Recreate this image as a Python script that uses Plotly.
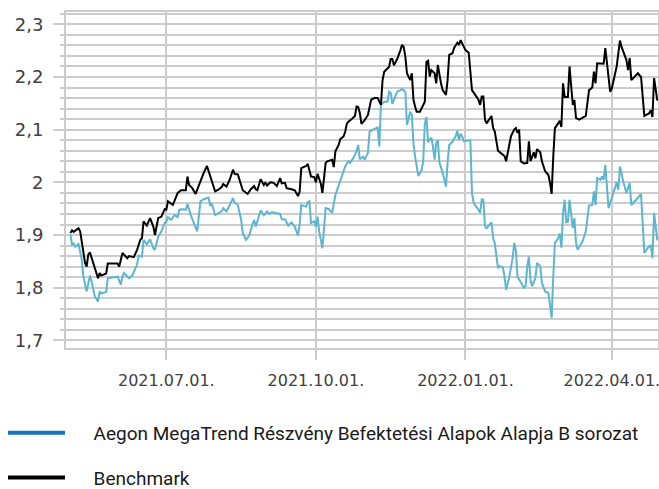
import plotly.graph_objects as go

fund_name = "Aegon MegaTrend Részvény Befektetési Alapok Alapja B sorozat"
bench_name = "Benchmark"

bench_dates = [
    "2021-05-03", "2021-05-04", "2021-05-05", "2021-05-08", "2021-05-09", "2021-05-10", "2021-05-12", "2021-05-13",
    "2021-05-14", "2021-05-15", "2021-05-17", "2021-05-19", "2021-05-20", "2021-05-21", "2021-05-22", "2021-05-25",
    "2021-05-26", "2021-06-01", "2021-06-02", "2021-06-04", "2021-06-07", "2021-06-08", "2021-06-11", "2021-06-13",
    "2021-06-15", "2021-06-16", "2021-06-17", "2021-06-19", "2021-06-21", "2021-06-23", "2021-06-24", "2021-06-26",
    "2021-06-28", "2021-06-30", "2021-07-01", "2021-07-02", "2021-07-05", "2021-07-08", "2021-07-10", "2021-07-13",
    "2021-07-14", "2021-07-15", "2021-07-17", "2021-07-19", "2021-07-21", "2021-07-24", "2021-07-26", "2021-07-28",
    "2021-07-31", "2021-08-02", "2021-08-04", "2021-08-05", "2021-08-07", "2021-08-09", "2021-08-11", "2021-08-12",
    "2021-08-14", "2021-08-16", "2021-08-17", "2021-08-20", "2021-08-22", "2021-08-24", "2021-08-25", "2021-08-26",
    "2021-08-28", "2021-08-30", "2021-08-31", "2021-09-01", "2021-09-03", "2021-09-05", "2021-09-07", "2021-09-09",
    "2021-09-10", "2021-09-12", "2021-09-13", "2021-09-16", "2021-09-18", "2021-09-20", "2021-09-21", "2021-09-22",
    "2021-09-25", "2021-09-26", "2021-09-28", "2021-09-30", "2021-10-01", "2021-10-02", "2021-10-04", "2021-10-05",
    "2021-10-06", "2021-10-07", "2021-10-08", "2021-10-10", "2021-10-11", "2021-10-12", "2021-10-13", "2021-10-15",
    "2021-10-16", "2021-10-18", "2021-10-19", "2021-10-20", "2021-10-21", "2021-10-23", "2021-10-25", "2021-10-26",
    "2021-10-27", "2021-10-28", "2021-10-29", "2021-10-31", "2021-11-02", "2021-11-04", "2021-11-06", "2021-11-08",
    "2021-11-09", "2021-11-10", "2021-11-11", "2021-11-12", "2021-11-14", "2021-11-15", "2021-11-16", "2021-11-17",
    "2021-11-18", "2021-11-20", "2021-11-22", "2021-11-23", "2021-11-24", "2021-11-25", "2021-11-26", "2021-11-28",
    "2021-11-29", "2021-11-30", "2021-12-01", "2021-12-02", "2021-12-04", "2021-12-06", "2021-12-07", "2021-12-08",
    "2021-12-09", "2021-12-10", "2021-12-11", "2021-12-13", "2021-12-14", "2021-12-15", "2021-12-16", "2021-12-17",
    "2021-12-18", "2021-12-20", "2021-12-21", "2021-12-22", "2021-12-24", "2021-12-25", "2021-12-27", "2021-12-28",
    "2021-12-29", "2021-12-30", "2021-12-31", "2022-01-01", "2022-01-03", "2022-01-04", "2022-01-05", "2022-01-07",
    "2022-01-09", "2022-01-10", "2022-01-11", "2022-01-12", "2022-01-13", "2022-01-14", "2022-01-17", "2022-01-18",
    "2022-01-19", "2022-01-21", "2022-01-23", "2022-01-25", "2022-01-26", "2022-01-28", "2022-01-29", "2022-01-31",
    "2022-02-01", "2022-02-02", "2022-02-03", "2022-02-04", "2022-02-06", "2022-02-08", "2022-02-09", "2022-02-10",
    "2022-02-12", "2022-02-13", "2022-02-14", "2022-02-16", "2022-02-17", "2022-02-19", "2022-02-21", "2022-02-22",
    "2022-02-23", "2022-02-24", "2022-02-25", "2022-02-27", "2022-02-28", "2022-03-01", "2022-03-02", "2022-03-03",
    "2022-03-05", "2022-03-06", "2022-03-08", "2022-03-09", "2022-03-10", "2022-03-12", "2022-03-16", "2022-03-18",
    "2022-03-20", "2022-03-21", "2022-03-22", "2022-03-23", "2022-03-25", "2022-03-27", "2022-03-28", "2022-03-30",
    "2022-03-31", "2022-04-01", "2022-04-04", "2022-04-06", "2022-04-07", "2022-04-10", "2022-04-11", "2022-04-12",
    "2022-04-13", "2022-04-17", "2022-04-19", "2022-04-21", "2022-04-24", "2022-04-25", "2022-04-26", "2022-04-27",
    "2022-04-29",
]
bench_values = [
    1.904, 1.909, 1.906, 1.913, 1.907, 1.885, 1.847, 1.840,
    1.863, 1.867, 1.847, 1.828, 1.818, 1.828, 1.823, 1.827,
    1.846, 1.846, 1.840, 1.866, 1.856, 1.860, 1.858, 1.872,
    1.891, 1.894, 1.926, 1.918, 1.932, 1.916, 1.900, 1.932,
    1.935, 1.949, 1.948, 1.964, 1.957, 1.980, 1.985, 1.985,
    2.011, 1.995, 1.989, 1.978, 1.995, 2.018, 2.031, 2.011,
    1.983, 1.986, 1.991, 1.997, 1.992, 2.005, 2.024, 2.016,
    2.015, 1.995, 1.985, 1.978, 1.987, 1.993, 1.987, 1.985,
    2.006, 1.995, 2.000, 1.994, 2.000, 1.999, 1.993, 2.008,
    1.998, 1.999, 1.989, 1.987, 1.985, 1.974, 1.982, 2.027,
    2.031, 2.035, 2.011, 2.010, 2.000, 2.016, 1.998, 1.980,
    2.016, 2.037, 2.040, 2.042, 2.043, 2.029, 2.059, 2.071,
    2.082, 2.087, 2.096, 2.111, 2.115, 2.120, 2.126, 2.144,
    2.143, 2.132, 2.111, 2.118, 2.128, 2.157, 2.160, 2.160,
    2.154, 2.147, 2.194, 2.210, 2.216, 2.219, 2.234, 2.234,
    2.222, 2.234, 2.251, 2.261, 2.257, 2.239, 2.207, 2.194,
    2.207, 2.157, 2.144, 2.134, 2.134, 2.145, 2.153, 2.229,
    2.231, 2.201, 2.213, 2.207, 2.188, 2.223, 2.200, 2.187,
    2.175, 2.166, 2.194, 2.242, 2.245, 2.255, 2.265, 2.261,
    2.270, 2.263, 2.258, 2.251, 2.246, 2.213, 2.175, 2.166,
    2.157, 2.147, 2.163, 2.163, 2.119, 2.112, 2.126, 2.103,
    2.097, 2.060, 2.055, 2.050, 2.040, 2.068, 2.088, 2.100,
    2.103, 2.094, 2.100, 2.040, 2.036, 2.037, 2.078, 2.040,
    2.057, 2.046, 2.063, 2.057, 2.040, 2.021, 2.014, 1.999,
    1.978, 2.049, 2.103, 2.112, 2.117, 2.105, 2.188, 2.162,
    2.162, 2.220, 2.147, 2.156, 2.122, 2.119, 2.126, 2.175,
    2.180, 2.210, 2.188, 2.226, 2.225, 2.225, 2.255, 2.194,
    2.172, 2.178, 2.220, 2.269, 2.257, 2.232, 2.213, 2.236,
    2.194, 2.207, 2.200, 2.126, 2.131, 2.137, 2.124, 2.198,
    2.155,
]

fund_dates = [
    "2021-05-03", "2021-05-04", "2021-05-05", "2021-05-06", "2021-05-08", "2021-05-10", "2021-05-11", "2021-05-13",
    "2021-05-15", "2021-05-16", "2021-05-18", "2021-05-20", "2021-05-21", "2021-05-22", "2021-05-25", "2021-05-26",
    "2021-06-01", "2021-06-03", "2021-06-04", "2021-06-05", "2021-06-08", "2021-06-10", "2021-06-13", "2021-06-14",
    "2021-06-16", "2021-06-17", "2021-06-19", "2021-06-21", "2021-06-23", "2021-06-24", "2021-06-26", "2021-06-28",
    "2021-06-30", "2021-07-01", "2021-07-02", "2021-07-04", "2021-07-06", "2021-07-08", "2021-07-09", "2021-07-11",
    "2021-07-13", "2021-07-14", "2021-07-16", "2021-07-20", "2021-07-21", "2021-07-22", "2021-07-24", "2021-07-27",
    "2021-07-28", "2021-07-29", "2021-07-31", "2021-08-02", "2021-08-04", "2021-08-05", "2021-08-07", "2021-08-09",
    "2021-08-11", "2021-08-12", "2021-08-14", "2021-08-16", "2021-08-17", "2021-08-19", "2021-08-21", "2021-08-22",
    "2021-08-24", "2021-08-25", "2021-08-27", "2021-08-28", "2021-08-30", "2021-09-01", "2021-09-02", "2021-09-04",
    "2021-09-09", "2021-09-10", "2021-09-12", "2021-09-14", "2021-09-16", "2021-09-18", "2021-09-20", "2021-09-21",
    "2021-09-22", "2021-09-25", "2021-09-26", "2021-09-27", "2021-09-28", "2021-09-30", "2021-10-01", "2021-10-02",
    "2021-10-03", "2021-10-05", "2021-10-06", "2021-10-07", "2021-10-09", "2021-10-11", "2021-10-13", "2021-10-15",
    "2021-10-17", "2021-10-19", "2021-10-21", "2021-10-22", "2021-10-24", "2021-10-26", "2021-10-27", "2021-10-28",
    "2021-10-30", "2021-10-31", "2021-11-02", "2021-11-03", "2021-11-05", "2021-11-07", "2021-11-08", "2021-11-09",
    "2021-11-10", "2021-11-12", "2021-11-14", "2021-11-15", "2021-11-16", "2021-11-17", "2021-11-18", "2021-11-20",
    "2021-11-22", "2021-11-23", "2021-11-25", "2021-11-26", "2021-11-28", "2021-11-29", "2021-11-30", "2021-12-01",
    "2021-12-03", "2021-12-05", "2021-12-06", "2021-12-07", "2021-12-08", "2021-12-09", "2021-12-11", "2021-12-12",
    "2021-12-13", "2021-12-14", "2021-12-15", "2021-12-16", "2021-12-18", "2021-12-20", "2021-12-21", "2021-12-22",
    "2021-12-24", "2021-12-26", "2021-12-27", "2021-12-28", "2021-12-29", "2021-12-30", "2021-12-31", "2022-01-02",
    "2022-01-04", "2022-01-05", "2022-01-06", "2022-01-09", "2022-01-10", "2022-01-11", "2022-01-12", "2022-01-13",
    "2022-01-14", "2022-01-17", "2022-01-18", "2022-01-19", "2022-01-21", "2022-01-22", "2022-01-24", "2022-01-25",
    "2022-01-26", "2022-01-28", "2022-01-30", "2022-01-31", "2022-02-01", "2022-02-02", "2022-02-04", "2022-02-06",
    "2022-02-07", "2022-02-08", "2022-02-09", "2022-02-10", "2022-02-11", "2022-02-13", "2022-02-14", "2022-02-16",
    "2022-02-17", "2022-02-19", "2022-02-21", "2022-02-22", "2022-02-23", "2022-02-24", "2022-02-25", "2022-02-27",
    "2022-02-28", "2022-03-01", "2022-03-02", "2022-03-03", "2022-03-04", "2022-03-05", "2022-03-06", "2022-03-08",
    "2022-03-09", "2022-03-10", "2022-03-11", "2022-03-14", "2022-03-16", "2022-03-18", "2022-03-20", "2022-03-21",
    "2022-03-22", "2022-03-23", "2022-03-25", "2022-03-26", "2022-03-27", "2022-03-28", "2022-03-30", "2022-04-01",
    "2022-04-03", "2022-04-04", "2022-04-05", "2022-04-06", "2022-04-08", "2022-04-10", "2022-04-12", "2022-04-13",
    "2022-04-16", "2022-04-19", "2022-04-21", "2022-04-23", "2022-04-25", "2022-04-26", "2022-04-27", "2022-04-29",
]
fund_values = [
    1.901, 1.882, 1.884, 1.878, 1.883, 1.853, 1.821, 1.793,
    1.823, 1.812, 1.784, 1.774, 1.793, 1.789, 1.792, 1.818,
    1.821, 1.806, 1.821, 1.828, 1.818, 1.823, 1.844, 1.861,
    1.859, 1.891, 1.882, 1.892, 1.875, 1.872, 1.897, 1.907,
    1.923, 1.925, 1.934, 1.929, 1.938, 1.934, 1.948, 1.949,
    1.948, 1.959, 1.938, 1.907, 1.936, 1.964, 1.968, 1.971,
    1.955, 1.960, 1.938, 1.942, 1.945, 1.951, 1.945, 1.957,
    1.970, 1.961, 1.957, 1.929, 1.904, 1.891, 1.899, 1.910,
    1.929, 1.916, 1.938, 1.947, 1.938, 1.945, 1.940, 1.943,
    1.940, 1.930, 1.930, 1.918, 1.924, 1.916, 1.899, 1.920,
    1.957, 1.954, 1.962, 1.964, 1.923, 1.926, 1.916, 1.935,
    1.907, 1.875, 1.913, 1.951, 1.949, 1.942, 1.976, 1.995,
    2.014, 2.030, 2.040, 2.037, 2.046, 2.059, 2.071, 2.044,
    2.049, 2.043, 2.056, 2.096, 2.100, 2.102, 2.104, 2.068,
    2.147, 2.153, 2.153, 2.172, 2.170, 2.149, 2.157, 2.172,
    2.175, 2.177, 2.172, 2.109, 2.134, 2.128, 2.074, 2.049,
    2.012, 2.023, 2.040, 2.112, 2.124, 2.076, 2.085, 2.068,
    2.043, 2.074, 2.080, 2.037, 2.018, 1.992, 2.038, 2.071,
    2.077, 2.088, 2.098, 2.080, 2.092, 2.087, 2.078, 2.079,
    2.080, 1.980, 1.961, 1.948, 1.942, 1.968, 1.967, 1.916,
    1.913, 1.924, 1.894, 1.885, 1.837, 1.841, 1.839, 1.821,
    1.796, 1.821, 1.856, 1.885, 1.870, 1.821, 1.809, 1.800,
    1.803, 1.840, 1.859, 1.815, 1.803, 1.818, 1.847, 1.841,
    1.809, 1.793, 1.790, 1.768, 1.743, 1.821, 1.885, 1.894,
    1.903, 1.876, 1.942, 1.967, 1.924, 1.925, 1.967, 1.913,
    1.932, 1.885, 1.872, 1.888, 1.907, 1.956, 1.957, 1.983,
    1.957, 2.008, 2.005, 2.011, 2.005, 2.033, 1.951, 1.970,
    1.989, 2.000, 1.986, 2.030, 2.002, 1.980, 1.999, 1.957,
    1.967, 1.978, 1.866, 1.875, 1.881, 1.856, 1.942, 1.890,
]

x_tick_dates = ["2021-07-01", "2021-10-01", "2022-01-01", "2022-04-01"]
x_tick_labels = ["2021.07.01.", "2021.10.01.", "2022.01.01.", "2022.04.01."]
x_range = ["2021-04-30 07:00", "2022-04-29 10:00"]
y_range = [1.6856, 2.3233]

fund_line_color = "#5cb6cf"
fund_legend_color = "#1874bc"
bench_color = "#000000"
grid_color = "#cccccc"

pad = "\u00a0" * 5

fig = go.Figure()
fig.add_trace(go.Scatter(x=fund_dates, y=fund_values, mode="lines",
                         line=dict(color=fund_line_color, width=2), showlegend=False,
                         name=fund_name))
fig.add_trace(go.Scatter(x=bench_dates, y=bench_values, mode="lines",
                         line=dict(color=bench_color, width=2), showlegend=False,
                         name=bench_name))
# legend entries
fig.add_trace(go.Scatter(x=[None], y=[None], mode="lines", name=pad + fund_name,
                         line=dict(color=fund_legend_color, width=4), legendgroup="a"))
fig.add_trace(go.Scatter(x=[None], y=[None], mode="lines", name=pad + bench_name,
                         line=dict(color="#000000", width=4), legendgroup="b"))

fig.update_layout(
    width=659, height=489,
    margin=dict(l=66, r=1, t=12, b=141, autoexpand=False),
    paper_bgcolor="white", plot_bgcolor="white",
    separators=", ",
    font=dict(family="DejaVu Sans", color="#404040", size=16),
    showlegend=True,
    legend=dict(
        xref="paper", yref="container",
        x=-63 / 592, y=1 - 414 / 489, xanchor="left", yanchor="top",
        orientation="v", itemwidth=57, tracegroupgap=17,
        font=dict(family="Roboto", size=19, color="#1a1a1a"),
        bgcolor="rgba(0,0,0,0)", borderwidth=0,
    ),
)
fig.update_xaxes(
    type="date", range=x_range, automargin=False,
    tickmode="array", tickvals=x_tick_dates, ticktext=x_tick_labels,
    ticks="outside", ticklen=10, tickwidth=2, tickcolor=grid_color,
    showgrid=True, gridcolor=grid_color, gridwidth=2,
    showline=True, linecolor=grid_color, linewidth=2, mirror=True,
    tickfont=dict(family="DejaVu Sans", size=16, color="#404040"),
    ticklabelstandoff=7, ticklabeloverflow="allow",
    zeroline=False,
)
fig.update_yaxes(
    range=y_range, automargin=False, tickmode="linear", tick0=1.7, dtick=0.1,
    ticks="outside", ticklen=11, tickwidth=2, tickcolor=grid_color,
    showgrid=True, gridcolor=grid_color, gridwidth=2,
    minor=dict(tickmode="linear", tick0=1.7, dtick=0.02, ticks="outside", ticklen=4,
               tickwidth=2, tickcolor=grid_color, showgrid=True, gridcolor=grid_color, gridwidth=2),
    showline=True, linecolor=grid_color, linewidth=2, mirror=True,
    tickfont=dict(family="DejaVu Sans", size=18, color="#404040"),
    ticklabelstandoff=6,
    zeroline=False,
)

fig.write_html("out.html", config={"displayModeBar": False},
               post_script="document.body.style.margin='0';document.body.style.padding='0';")
